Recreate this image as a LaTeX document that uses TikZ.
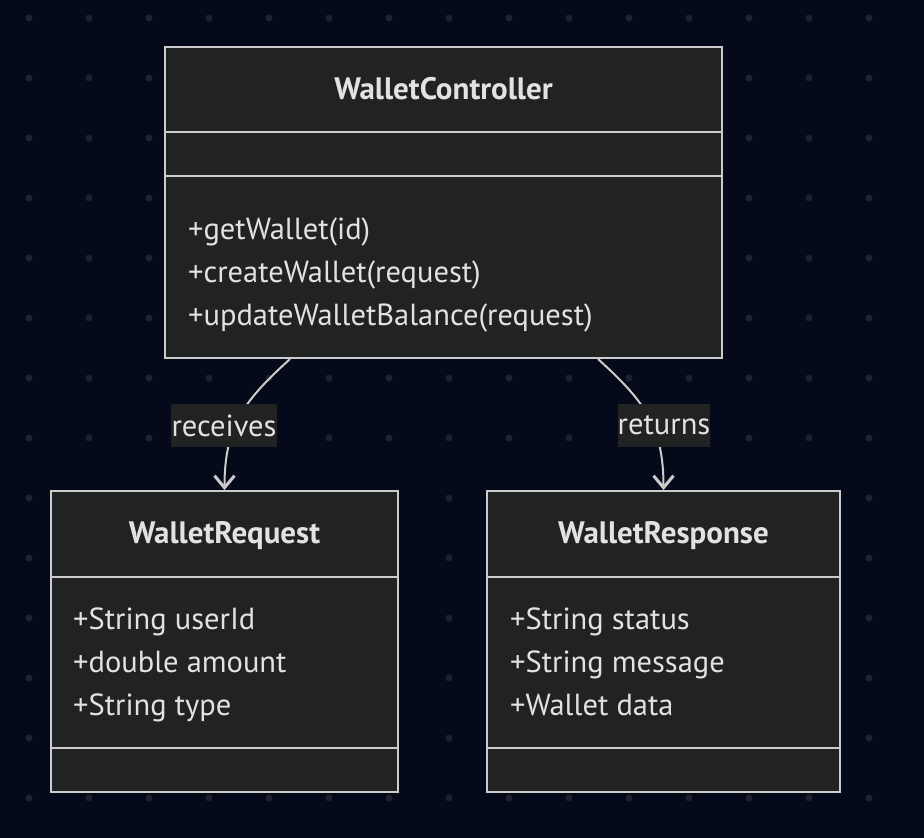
\documentclass[tikz,border=0pt]{standalone}
\usepackage{fontspec}
\setmainfont{PT Sans}
\usetikzlibrary{arrows.meta,calc}
\definecolor{bgc}{HTML}{050A1A}
\definecolor{dotc}{HTML}{1D202D}
\definecolor{boxc}{HTML}{212222}
\definecolor{linec}{HTML}{CCCCCC}
\definecolor{txtc}{HTML}{E2E2E2}
\tikzset{
  classbox/.style={draw=linec, fill=boxc, line width=2pt, inner sep=0pt},
  divider/.style={draw=linec, line width=2pt},
  titletxt/.style={text=txtc, font=\fontsize{31}{33}\selectfont\bfseries, anchor=base, inner sep=0pt},
  membertxt/.style={text=txtc, font=\fontsize{30.5}{33}\selectfont, anchor=base west, inner sep=0pt},
  edgelabel/.style={fill=boxc, text=txtc, font=\fontsize{30.5}{33}\selectfont, inner sep=0pt, text depth=0pt},
  edge/.style={draw=linec, line width=2pt, -{Straight Barb[length=12pt,width=20pt,line width=3pt]}}
}
\begin{document}
\begin{tikzpicture}[x=1pt,y=-1pt]
\fill[bgc] (0,0) rectangle (924,838);
\useasboundingbox (0,0) rectangle (924,838);
% dot grid
\foreach \i in {0,...,14}{
  \foreach \j in {0,...,13}{
    \fill[dotc] (29+60*\i,18+60*\j) circle (3.6pt);
  }
}
% WalletController
\node[classbox, minimum width=557pt, minimum height=311pt] (ctrl) at (443.5,202.5) {};
\draw[divider] (ctrl.west |- 0,132) -- (ctrl.east |- 0,132);
\draw[divider] (ctrl.west |- 0,176) -- (ctrl.east |- 0,176);
\node[titletxt] (ctrlt) at (443.5,99) {WalletController};
\node[membertxt] (ctrlm1) at (188,239) {+getWallet(id)};
\node[membertxt] (ctrlm2) at (188,282) {+createWallet(request)};
\node[membertxt] (ctrlm3) at (188,325) {+updateWalletBalance(request)};
% WalletRequest
\node[classbox, minimum width=347pt, minimum height=301pt] (req) at (224.5,641.5) {};
\draw[divider] (req.west |- 0,577) -- (req.east |- 0,577);
\draw[divider] (req.west |- 0,748) -- (req.east |- 0,748);
\node[titletxt] (reqt) at (224.5,543) {WalletRequest};
\node[membertxt] (reqm1) at (73,629) {+String userId};
\node[membertxt] (reqm2) at (73,672) {+double amount};
\node[membertxt] (reqm3) at (73,715) {+String type};
% WalletResponse
\node[classbox, minimum width=353pt, minimum height=301pt] (resp) at (663.5,641.5) {};
\draw[divider] (resp.west |- 0,577) -- (resp.east |- 0,577);
\draw[divider] (resp.west |- 0,748) -- (resp.east |- 0,748);
\node[titletxt] (respt) at (663.5,543) {WalletResponse};
\node[membertxt] (respm1) at (510,629) {+String status};
\node[membertxt] (respm2) at (510,672) {+String message};
\node[membertxt] (respm3) at (510,715) {+Wallet data};
% edges
\draw[edge] ([xshift=-153.5pt]ctrl.south) .. controls (245,400) and (224.5,425) .. (req.north);
\draw[edge] ([xshift=154.5pt]ctrl.south) .. controls (643,400) and (663.5,425) .. (resp.north);
\node[edgelabel, minimum width=106pt, minimum height=43pt] (lab1) at (224,425.5) {receives};
\node[edgelabel, minimum width=92pt, minimum height=43pt] (lab2) at (664,425.5) {returns};
\end{tikzpicture}
\end{document}
